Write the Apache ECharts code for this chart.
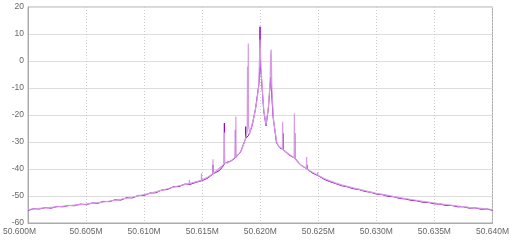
<!DOCTYPE html>
<html>
<head>
<meta charset="utf-8">
<script src="https://cdn.jsdelivr.net/npm/echarts@6/dist/echarts.min.js"></script>
<style>html,body{margin:0;padding:0;background:#fff}#c{width:512px;height:240px}</style>
</head>
<body>
<div id="c"></div>
<script>
// frequency offsets in kHz from 50.600 MHz
var baseMHz = 50.600;
var xTicks = [50.600, 50.605, 50.610, 50.615, 50.620, 50.625, 50.630, 50.635, 50.640];
var yTicks = [-60, -50, -40, -30, -20, -10, 0, 10, 20];

var lightFreq = [0,1,2,3,4,5,6,7,8,9,10,11,12,13,
  13.88,13.9,13.92,14.5,14.92,14.94,14.96,15.5,15.91,15.93,15.95,16.4,16.89,16.91,16.93,17.0,17.2,17.5,17.88,17.9,17.92,
  18.2,18.4,18.6,18.75,18.88,18.9,18.92,18.95,18.97,18.99,19.1,19.2,19.5,19.7,19.87,19.98,20.08,20.3,20.5,20.7,20.85,20.9,20.94,21.0,21.14,21.42,21.6,
  21.91,21.93,21.95,22.1,22.5,22.92,22.94,22.96,23.3,23.6,23.97,23.99,24.01,24.5,24.93,24.95,24.97,25.5,26,26.6,27,28,29,30,31,32,33,34,35,36,37,38,39,40];
var lightLevel = [-55,-54.6,-54.2,-53.8,-53.4,-53,-52.5,-51.9,-51.2,-50.4,-49.5,-48.5,-47.3,-46.2,
  -45.4,-44,-45.4,-44.7,-44.2,-41.6,-44.1,-43,-41.8,-36.4,-41.7,-40,-38.2,-26.5,-37.5,-37.9,-37.8,-36.8,-35.6,-20.6,-35.3,
  -34.2,-32.8,-30.5,-28.5,-26,-2,-24,-20,6.5,-24,-27,-25,-20,-15,-9.5,8,-4,-18,-23.7,-17,-8,3,4.2,-10,-22,-30,-31.8,
  -32.5,-22.5,-32.8,-33.2,-34.6,-35.8,-19.4,-36,-37.8,-38.8,-39.8,-35.6,-40,-41.2,-42.2,-41.2,-42.3,-43.5,-44.4,-45.3,-45.9,-47,-48,-49,-49.8,-50.6,-51.3,-52,-52.6,-53.2,-53.7,-54.2,-54.6,-55];

var darkFreq = [0,0.5,1,1.5,2,2.5,3,3.5,4,4.5,5,5.5,6,6.5,7,7.5,8,8.5,9,9.5,10,10.5,11,11.5,12,12.5,13,13.5,13.95,14.5,15,15.5,
  15.91,15.93,15.95,16.5,16.89,16.91,16.93,17.0,17.5,17.84,17.86,17.88,18.3,18.73,18.75,18.77,19.0,19.3,19.6,19.9,19.96,19.98,20.0,20.08,20.3,20.5,20.7,20.9,21.1,21.4,21.7,
  21.94,21.96,21.98,22.5,22.95,22.97,22.99,23.5,24.0,24.02,24.04,24.5,25,25.5,26,26.5,27,27.5,28,28.5,29,29.5,30,30.5,31,31.5,32,32.5,33,33.5,34,34.5,35,35.5,36,36.5,37,37.5,38,38.5,39,39.5,40];
var darkLevel = [-55.3,-54.7,-54.8,-54.3,-54.5,-53.9,-54.0,-53.5,-53.6,-53.0,-53.2,-52.6,-52.7,-52.0,-52.1,-51.4,-51.5,-50.6,-50.7,-49.8,-49.8,-48.9,-48.8,-47.8,-47.6,-46.6,-46.5,-45.6,-45.7,-44.9,-44.3,-43.3,
  -41.9,-38.5,-41.8,-40.5,-38.4,-23,-37.8,-38.1,-37,-35.9,-25.5,-35.8,-33.8,-28.8,-24.3,-28.6,-27.5,-24,-17.5,-8,-2,12.7,-2,-5,-18.5,-24,-17.5,-6,-20.5,-30.3,-32.3,
  -32.6,-26.8,-32.9,-34.9,-35.9,-26.7,-36,-38.6,-39.9,-38.5,-40.1,-41.5,-42.5,-43.8,-44.7,-45.4,-46.2,-46.6,-47.3,-47.6,-48.3,-48.6,-49.3,-49.5,-50.1,-50.3,-50.9,-51.1,-51.6,-51.8,-52.3,-52.4,-52.9,-53.0,-53.5,-53.5,-54.0,-54.0,-54.5,-54.4,-54.9,-54.8,-55.3];

function pairs(f, v) {
  return f.map(function (k, i) { return [baseMHz + k / 1000, v[i]]; });
}

var font = 'Liberation Sans, Arial, sans-serif';
var chart = echarts.init(document.getElementById('c'), null, {renderer: 'canvas'});
chart.setOption({
  animation: false,
  backgroundColor: '#fff',
  grid: {left: 25, right: 14, top: 7, bottom: 17, show: true, borderColor: '#aaa', borderWidth: 1},
  xAxis: {
    type: 'value', min: xTicks[0], max: xTicks[xTicks.length - 1], interval: 0.005,
    axisLine: {show: true, onZero: false, lineStyle: {color: '#aaa'}},
    axisTick: {show: false},
    splitLine: {show: true, lineStyle: {color: '#ccc', type: [1, 2], width: 1}},
    axisLabel: {
      color: '#666', fontFamily: font, fontSize: 8.5, margin: 4,
      formatter: function (v) {
        var s = v.toFixed(3) + 'M';
        return Math.abs(v - xTicks[0]) < 1e-9 ? '{first|' + s + '}' : s;
      },
      rich: {first: {padding: [0, 17, 0, 0], color: '#666', fontFamily: font, fontSize: 8.5}}
    }
  },
  yAxis: {
    type: 'value', min: yTicks[0], max: yTicks[yTicks.length - 1], interval: 10,
    axisLine: {show: true, lineStyle: {color: '#aaa'}},
    axisTick: {show: false},
    splitLine: {show: true, lineStyle: {color: '#ddd', width: 1}},
    axisLabel: {color: '#666', fontFamily: font, fontSize: 8.5, margin: 4}
  },
  series: [
    {
      type: 'line', name: 'dark', data: pairs(darkFreq, darkLevel), showSymbol: false, symbol: 'none',
      lineStyle: {color: '#9400d3', width: 1}, z: 2
    },
    {
      type: 'line', name: 'light', data: pairs(lightFreq, lightLevel), showSymbol: false, symbol: 'none',
      lineStyle: {color: '#d69be0', width: 1.2}, z: 3
    }
  ]
});
</script>
</body>
</html>
